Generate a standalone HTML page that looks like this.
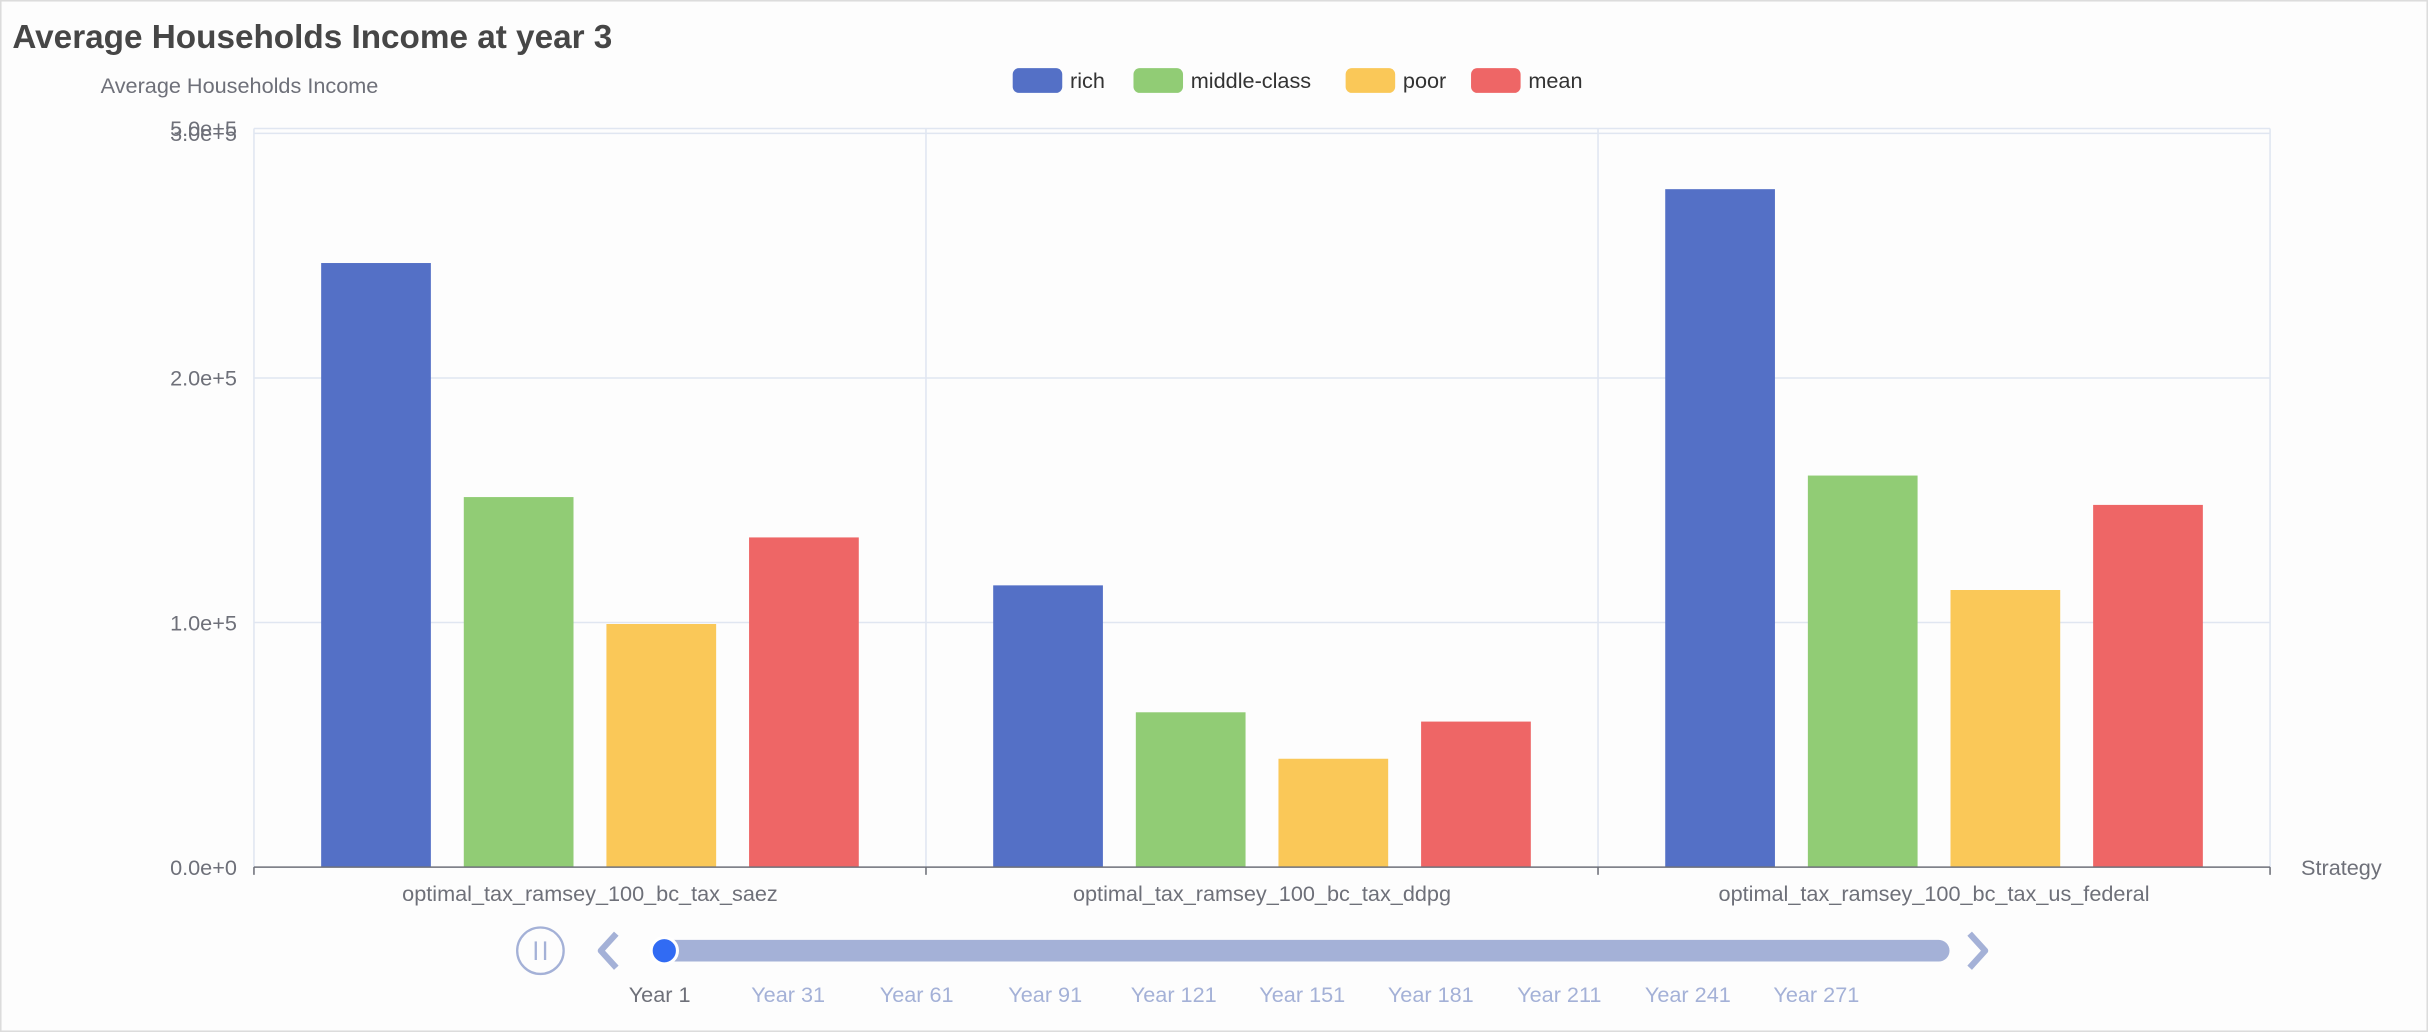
<!DOCTYPE html>
<html><head><meta charset="utf-8"><style>
html,body{margin:0;padding:0;background:#fdfdfd;}
svg{display:block;font-family:"Liberation Sans",Arial,sans-serif;}
</style></head><body>
<svg id="chart" width="2428" height="1032" viewBox="0 0 1568 666.5" preserveAspectRatio="none" xmlns="http://www.w3.org/2000/svg">
<rect x="0.5" y="0.5" width="1567" height="665.5" fill="#fdfdfd" stroke="#dcdcdc"/>
<text x="8" y="31" font-size="21.5" font-weight="bold" fill="#464646">Average Households Income at year 3</text>
<text x="65" y="60" font-size="14" fill="#6e7079">Average Households Income</text>
<g id="legend"></g>
<g id="grid"></g>
<g id="bars"></g>
<g id="axes"></g>
<text x="1486" y="565" font-size="14" fill="#6e7079">Strategy</text>
<g>
  <circle cx="349" cy="614" r="15" fill="none" stroke="#a4b1d7" stroke-width="1.5"/>
  <line x1="346" y1="608" x2="346" y2="620" stroke="#a4b1d7" stroke-width="1.5"/>
  <line x1="352" y1="608" x2="352" y2="620" stroke="#a4b1d7" stroke-width="1.5"/>
  <path d="M398 603 L388 614 L398 625" fill="none" stroke="#a4b1d7" stroke-width="4" stroke-linejoin="round"/>
  <path d="M1272 603 L1282 614 L1272 625" fill="none" stroke="#a4b1d7" stroke-width="4" stroke-linejoin="round"/>
  <line x1="432" y1="614" x2="1252" y2="614" stroke="#a4b1d7" stroke-width="14" stroke-linecap="round"/>
  <circle cx="429" cy="614" r="8.5" fill="#316bf3" stroke="#fff" stroke-width="2"/>
  <g id="tl-labels"></g>
</g>
</svg>
<script>
const categories = ["optimal_tax_ramsey_100_bc_tax_saez","optimal_tax_ramsey_100_bc_tax_ddpg","optimal_tax_ramsey_100_bc_tax_us_federal"];
const seriesNames = ["rich","middle-class","poor","mean"];
const richValues = [247000, 115200, 277200];
const middleValues = [151300, 63300, 160100];
const poorValues = [99400, 44300, 113300];
const meanValues = [134800, 59500, 148100];
const yTicks = [0, 100000, 200000, 300000];
const yTickLabels = ["0.0e+0","1.0e+5","2.0e+5","3.0e+5"];
const yMax = 302000;
const timelineLabels = ["Year 1","Year 31","Year 61","Year 91","Year 121","Year 151","Year 181","Year 211","Year 241","Year 271"];

const colors = ["#5470c6","#91cc75","#fac858","#ee6666"];
const NS = "http://www.w3.org/2000/svg";
const L = 164, R = 1466, T = 83, B = 560;
function mk(tag, attrs, parent){const e=document.createElementNS(NS,tag);for(const k in attrs)e.setAttribute(k,attrs[k]);parent.appendChild(e);return e;}
function y(v){return B - (v / yMax) * (B - T);}
const catW = (R - L) / categories.length;
function x(i){return L + i * catW;}
const grid = document.getElementById('grid'), bars = document.getElementById('bars'), axes = document.getElementById('axes');
// grid
yTicks.forEach((t,i)=>{
  if(i>0){const g=mk('line',{x1:L,x2:R,y1:y(t),y2:y(t),stroke:'#e0e6f1'},grid);
  
  }
  const lb=mk('text',{x:153,y:y(t)+5,'text-anchor':'end','font-size':14,fill:'#6e7079'},axes);
  lb.textContent=yTickLabels[i];
  
  
});
const topL=mk('text',{x:153,y:T+5,'text-anchor':'end','font-size':14,fill:'#6e7079'},axes);
topL.textContent="5.0e+5";


mk('line',{x1:L,x2:R,y1:T,y2:T,stroke:'#e0e6f1'},grid);
for(let i=0;i<=categories.length;i++){
  const v=mk('line',{x1:x(i),x2:x(i),y1:T,y2:B,stroke:'#e0e6f1'},grid);
  
  
}
// bars
const all=[richValues,middleValues,poorValues,meanValues];
const bw = catW*0.8/(4+3*0.3), gap=bw*0.3;
categories.forEach((c,i)=>{
  all.forEach((arr,s)=>{
    const bx = x(i)+catW*0.1 + s*(bw+gap);
    const r=mk('rect',{x:bx,y:y(arr[i]),width:bw,height:B-y(arr[i]),fill:colors[s]},bars);
    
    
  });
  const lb=mk('text',{x:x(i)+catW/2,y:582,'text-anchor':'middle','font-size':14,fill:'#6e7079'},axes);
  lb.textContent=c;
  
  
  const tk=mk('line',{x1:x(i),x2:x(i),y1:B,y2:B+5,stroke:'#6e7079'},axes);
  
  
});
mk('line',{x1:x(3),x2:x(3),y1:B,y2:B+5,stroke:'#6e7079'},axes);
const ax=mk('line',{x1:L,x2:R,y1:B,y2:B,stroke:'#6e7079'},axes);


// legend
const legend=document.getElementById('legend');
const legX=[654,732,869,950];
seriesNames.forEach((n,i)=>{
  const g=mk('g',{},legend);
  
  
  mk('rect',{x:legX[i],y:44,width:32,height:16,rx:4,fill:colors[i]},g);
  const t=mk('text',{x:legX[i]+37,y:57,'font-size':14,fill:'#333'},g);
  t.textContent=n;
});
// timeline labels
const tl=document.getElementById('tl-labels');
timelineLabels.forEach((n,i)=>{
  const t=mk('text',{x:426+i*83,y:647,'text-anchor':'middle','font-size':14,fill:i===0?'#6e7079':'#a4b1d7'},tl);
  t.textContent=n;
  
  
});
</script>
</body></html>
